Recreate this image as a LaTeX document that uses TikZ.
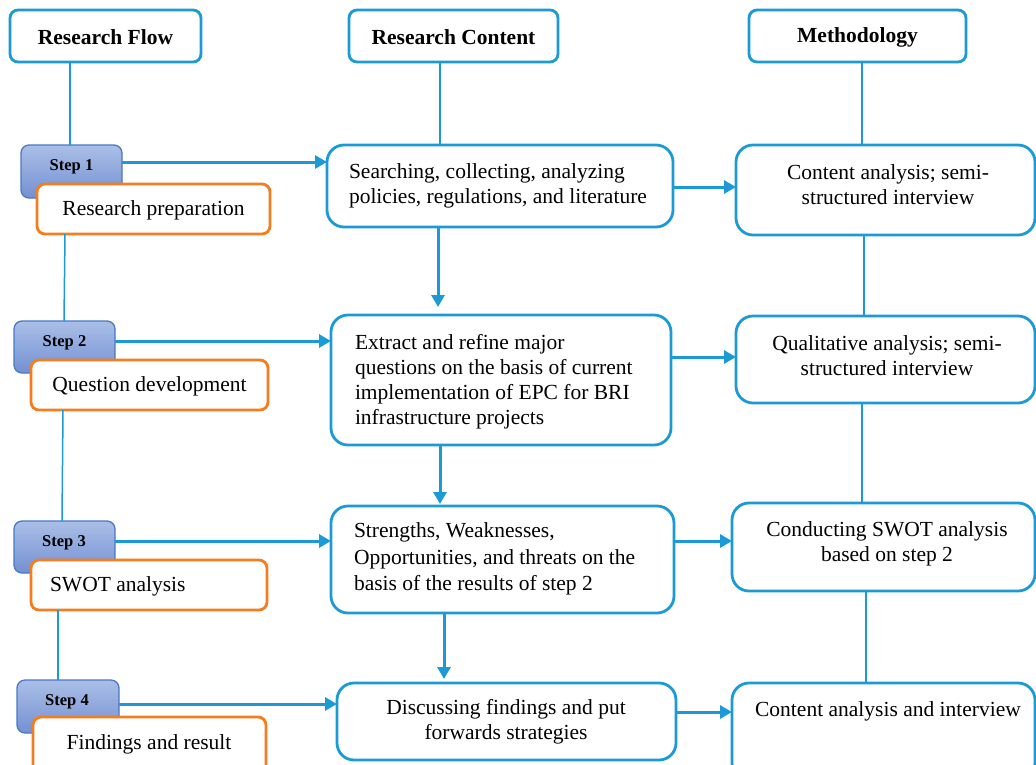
\documentclass[tikz,border=0pt]{standalone}
\usepackage{fontspec}
\setmainfont{Liberation Serif}
\usetikzlibrary{arrows.meta,calc}
\definecolor{lblue}{HTML}{1B9AD6}
\definecolor{lorange}{HTML}{F47D20}
\definecolor{stepborder}{HTML}{4A78C6}
\definecolor{steptop}{HTML}{AABFE7}
\definecolor{stepbot}{HTML}{7490D2}
\begin{document}
\begin{tikzpicture}[x=1pt,y=-1pt,
 every node/.style={font=\fontsize{21.5}{25}\selectfont, inner sep=0pt, outer sep=0pt},
 hbox/.style={draw=lblue, line width=2.8pt, rounded corners=8pt, fill=white},
 cbox/.style={draw=lblue, line width=2.8pt, rounded corners=17pt, fill=white},
 stepbox/.style={draw=stepborder, line width=1.3pt, rounded corners=8pt, top color=steptop, bottom color=stepbot},
 obox/.style={draw=lorange, line width=2.8pt, rounded corners=8pt, fill=white},
 conn/.style={draw=lblue, line width=1.5pt},
 arr/.style={draw=lblue, line width=3pt, -{Triangle[length=12pt,width=13pt]}},
 htxt/.style={font=\bfseries\fontsize{21.5}{25}\selectfont},
 steptxt/.style={font=\bfseries\fontsize{16.5}{18}\selectfont},
 ctxt/.style={align=center},
 ltxt/.style={align=left, anchor=west},
]
\useasboundingbox (0,0) rectangle (1036,764);
\fill[white] (0,0) rectangle (1036,764);

% headers
\node[hbox, minimum width=191pt, minimum height=52pt] (hf) at (105.5,36) {};
\node[hbox, minimum width=209pt, minimum height=52pt] (hc) at (453.5,36) {};
\node[hbox, minimum width=217pt, minimum height=52pt] (hm) at (857.5,36) {};
\node[htxt] (hft) at (105.5,37) {Research Flow};
\node[htxt] (hct) at (453.5,37) {Research Content};
\node[htxt] (hmt) at (857.5,37) {Methodology};

% content boxes
\node[cbox, minimum width=346pt, minimum height=82pt] (c1) at (500,186) {};
\node[cbox, minimum width=340pt, minimum height=130pt] (c2) at (501,380) {};
\node[cbox, minimum width=343pt, minimum height=107pt] (c3) at (502.5,559.5) {};
\node[cbox, minimum width=339pt, minimum height=77pt] (c4) at (506.5,721.5) {};
\node[ltxt] (c1t) at (349,186) {Searching, collecting, analyzing\\policies, regulations, and literature};
\node[ltxt] (c2t) at (355,382) {Extract and refine major\\questions on the basis of current\\implementation of EPC for BRI\\infrastructure projects};
\node[ltxt, font=\fontsize{21.5}{26.5}\selectfont] (c3t) at (354,559) {Strengths, Weaknesses,\\Opportunities, and threats on the\\basis of the results of step 2};
\node[ctxt] (c4t) at (506,722) {Discussing findings and put\\forwards strategies};

% methodology boxes
\node[cbox, minimum width=299pt, minimum height=90pt] (m1) at (885.5,190) {};
\node[cbox, minimum width=299pt, minimum height=87pt] (m2) at (885.5,359.5) {};
\node[cbox, minimum width=303pt, minimum height=88pt] (m3) at (883.5,547) {};
\node[cbox, minimum width=303pt, minimum height=97pt] (m4) at (883.5,731.5) {};
\node[ctxt] (m1t) at (888,185) {Content analysis; semi-\\structured interview};
\node[ctxt] (m2t) at (887,356) {Qualitative analysis; semi-\\structured interview};
\node[ctxt] (m3t) at (887,544) {Conducting SWOT analysis\\based on step 2};
\node (m4t) at (888,711) {Content analysis and interview};

% steps
\node[stepbox, minimum width=101pt, minimum height=53pt] (s1) at (71.5,171.5) {};
\node[stepbox, minimum width=101pt, minimum height=52pt] (s2) at (64.5,347) {};
\node[stepbox, minimum width=101pt, minimum height=52pt] (s3) at (64.5,547) {};
\node[stepbox, minimum width=102pt, minimum height=53pt] (s4) at (68,706.5) {};
\node[steptxt] (s1t) at (71.5,167) {Step 1};
\node[steptxt] (s2t) at (64.5,343) {Step 2};
\node[steptxt] (s3t) at (64,543) {Step 3};
\node[steptxt] (s4t) at (67,702) {Step 4};

% orange boxes
\node[obox, minimum width=233pt, minimum height=50pt] (o1) at (153.5,209) {};
\node[obox, minimum width=237pt, minimum height=50pt] (o2) at (149.5,385) {};
\node[obox, minimum width=236pt, minimum height=50pt] (o3) at (149,585) {};
\node[obox, minimum width=233pt, minimum height=58pt] (o4) at (149.5,746) {};
\node (o1t) at (153.5,210) {Research preparation};
\node (o2t) at (149.5,386) {Question development};
\node[anchor=west] (o3t) at (50,586) {SWOT analysis};
\node (o4t) at (149,744) {Findings and result};

% thin connectors
\draw[conn] (70,0 |- hf.south) -- (70,0 |- s1.north);
\draw[conn] (440,0 |- hc.south) -- (440,0 |- c1.north);
\draw[conn] (862,0 |- hm.south) -- (862,0 |- m1.north);
\draw[conn] (65,0 |- o1.south) -- (64,0 |- s2.north);
\draw[conn] (63,0 |- o2.south) -- (62,0 |- s3.north);
\draw[conn] (58,0 |- o3.south) -- (58,0 |- s4.north);
\draw[conn] (864,0 |- m1.south) -- (864,0 |- m2.north);
\draw[conn] (862,0 |- m2.south) -- (862,0 |- m3.north);
\draw[conn] (866,0 |- m3.south) -- (866,0 |- m4.north);

% arrows
\draw[arr] (s1.east |- 0,162) -- (c1.west |- 0,162);
\draw[arr] (c1.east |- 0,187) -- (m1.west |- 0,187);
\draw[arr, shorten >=8pt] (438,0 |- c1.south) -- (438,0 |- c2.north);
\draw[arr] (s2.east |- 0,341) -- (c2.west |- 0,341);
\draw[arr] (c2.east |- 0,357) -- (m2.west |- 0,357);
\draw[arr, shorten >=2pt] (440,0 |- c2.south) -- (440,0 |- c3.north);
\draw[arr] (s3.east |- 0,541) -- (c3.west |- 0,541);
\draw[arr] (c3.east |- 0,541) -- (m3.west |- 0,541);
\draw[arr, shorten >=4pt] (444,0 |- c3.south) -- (444,0 |- c4.north);
\draw[arr] (s4.east |- 0,704) -- (c4.west |- 0,704);
\draw[arr] (c4.east |- 0,712) -- (m4.west |- 0,712);
\end{tikzpicture}
\end{document}
